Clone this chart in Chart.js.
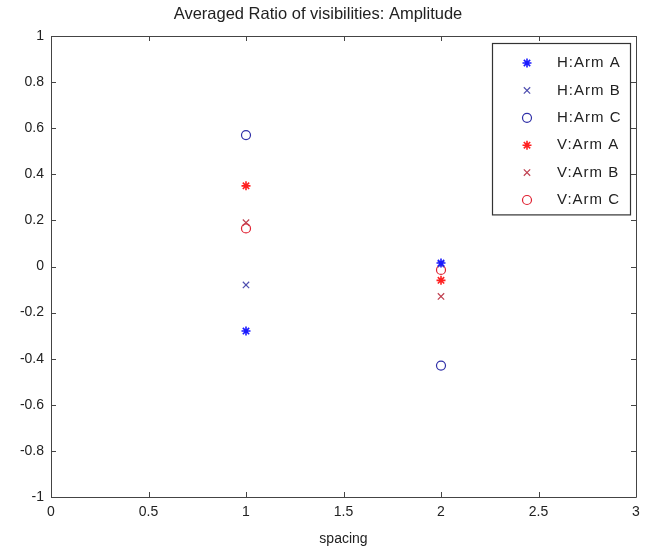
<!DOCTYPE html>
<html lang="en">
<head>
    <meta charset="UTF-8">
    <title>Averaged Ratio of visibilities: Amplitude</title>
    <style>
        html, body {
            margin: 0;
            padding: 0;
            background: #fff;
        }
        #chartContainer {
            width: 656px;
            height: 552px;
        }
    </style>
</head>
<body>

<div id="chartContainer">
    <canvas id="ratioChart" width="656" height="552"></canvas>
</div>

<script src="https://cdn.jsdelivr.net/npm/chart.js"></script>
<script>
    // values
    const spacing = [1, 2];
    const hArmA = [-0.28, 0.015];
    const hArmB = [-0.08, 0.01];
    const hArmC = [0.57, -0.43];
    const vArmA = [0.35, -0.06];
    const vArmB = [0.19, -0.13];
    const vArmC = [0.165, -0.015];

    const seriesLabels = ['H:Arm A', 'H:Arm B', 'H:Arm C', 'V:Arm A', 'V:Arm B', 'V:Arm C'];
    const seriesValues = [hArmA, hArmB, hArmC, vArmA, vArmB, vArmC];
    const xTicks = [0, 0.5, 1, 1.5, 2, 2.5, 3];
    const yTicks = [-1, -0.8, -0.6, -0.4, -0.2, 0, 0.2, 0.4, 0.6, 0.8, 1];

    const styles = [
        { color: '#1a1aff', shape: 'star' },
        { color: '#5050b0', shape: 'crossRot' },
        { color: '#3030a8', shape: 'circle' },
        { color: '#ff2020', shape: 'star' },
        { color: '#c04050', shape: 'crossRot' },
        { color: '#e02030', shape: 'circle' }
    ];
    const FONT = '"Liberation Sans", Arial, sans-serif';

    const datasets = seriesLabels.map((label, i) => ({
        label: label,
        data: spacing.map((x, j) => ({ x: x, y: seriesValues[i][j] })),
        pointStyle: styles[i].shape,
        pointRadius: 4.5,
        pointHoverRadius: 4.5,
        borderColor: styles[i].color,
        backgroundColor: 'rgba(0,0,0,0)',
        pointBorderWidth: styles[i].shape === 'star' ? 1.6 : 1.2,
        showLine: false
    }));

    function fmt(v) {
        const r = Math.round(v * 10) / 10;
        return r === 0 ? '0' : String(r);
    }

    // MATLAB-ish box with inward ticks
    const boxPlugin = {
        id: 'box',
        afterDraw(chart) {
            const { ctx, chartArea: a, scales } = chart;
            ctx.save();
            ctx.strokeStyle = '#444';
            ctx.lineWidth = 1;
            ctx.beginPath();
            ctx.rect(Math.round(a.left) + 0.5, Math.round(a.top) + 0.5,
                Math.round(a.right - a.left), Math.round(a.bottom - a.top));
            ctx.stroke();
            ctx.beginPath();
            const len = 5;
            xTicks.forEach(v => {
                const px = Math.round(scales.x.getPixelForValue(v)) + 0.5;
                ctx.moveTo(px, a.bottom); ctx.lineTo(px, a.bottom - len);
                ctx.moveTo(px, a.top); ctx.lineTo(px, a.top + len);
            });
            yTicks.forEach(v => {
                const py = Math.round(scales.y.getPixelForValue(v)) + 0.5;
                ctx.moveTo(a.left, py); ctx.lineTo(a.left + len, py);
                ctx.moveTo(a.right, py); ctx.lineTo(a.right - len, py);
            });
            ctx.stroke();
            ctx.restore();
        }
    };

    // legend box inside the axes, top right
    const legendBoxPlugin = {
        id: 'legendBox',
        afterDraw(chart) {
            const { ctx, chartArea: a } = chart;
            const w = 138, rowH = 27.4;
            const x0 = a.right - 144, y0 = a.top + 7;
            const h = rowH * chart.data.datasets.length + 7;
            ctx.save();
            ctx.fillStyle = '#fff';
            ctx.fillRect(x0, y0, w, h);
            ctx.strokeStyle = '#333';
            ctx.lineWidth = 1.2;
            ctx.strokeRect(Math.round(x0) + 0.5, Math.round(y0) + 0.5, w, h);
            ctx.font = '15px ' + FONT;
            ctx.textBaseline = 'middle';
            chart.data.datasets.forEach((ds, i) => {
                const cy = y0 + 20 + i * rowH;
                ctx.strokeStyle = ds.borderColor;
                ctx.fillStyle = 'rgba(0,0,0,0)';
                ctx.lineWidth = ds.pointBorderWidth;
                Chart.helpers.drawPoint(ctx, {
                    pointStyle: ds.pointStyle,
                    radius: ds.pointRadius,
                    borderWidth: ds.pointBorderWidth,
                    rotation: 0
                }, x0 + 35, cy);
                ctx.fillStyle = '#222';
                ctx.letterSpacing = '1px';
                ctx.fillText(ds.label, x0 + 65, cy);
                ctx.letterSpacing = '0px';
            });
            ctx.restore();
        }
    };

    const ctx = document.getElementById('ratioChart').getContext('2d');
    new Chart(ctx, {
        type: 'scatter',
        data: { datasets: datasets },
        options: {
            responsive: false,
            animation: false,
            layout: { padding: { left: 0, right: 20, top: 0, bottom: 0 } },
            plugins: {
                legend: { display: false },
                tooltip: { enabled: false },
                title: {
                    display: true,
                    text: 'Averaged Ratio of visibilities: Amplitude',
                    color: '#222',
                    font: { family: FONT, size: 16.5, weight: 'normal', lineHeight: 1.2 },
                    padding: { top: 5, bottom: 11.2 }
                }
            },
            scales: {
                x: {
                    type: 'linear',
                    min: 0,
                    max: 3,
                    afterBuildTicks: s => { s.ticks = xTicks.map(v => ({ value: v })); },
                    afterFit: s => { s.height = 55; },
                    grid: { display: false, drawTicks: false },
                    border: { display: false },
                    ticks: {
                        color: '#222',
                        padding: 7,
                        maxRotation: 0,
                        font: { family: FONT, size: 14 },
                        callback: v => fmt(v)
                    },
                    title: {
                        display: true,
                        text: 'spacing',
                        color: '#222',
                        font: { family: FONT, size: 14 },
                        padding: { top: 0, bottom: 4 }
                    }
                },
                y: {
                    type: 'linear',
                    min: -1,
                    max: 1,
                    afterBuildTicks: s => { s.ticks = yTicks.map(v => ({ value: v })); },
                    afterFit: s => { s.width = 51; },
                    grid: { display: false, drawTicks: false },
                    border: { display: false },
                    ticks: {
                        color: '#222',
                        padding: 7,
                        font: { family: FONT, size: 14 },
                        callback: v => fmt(v)
                    }
                }
            }
        },
        plugins: [boxPlugin, legendBoxPlugin]
    });
</script>

</body>
</html>
